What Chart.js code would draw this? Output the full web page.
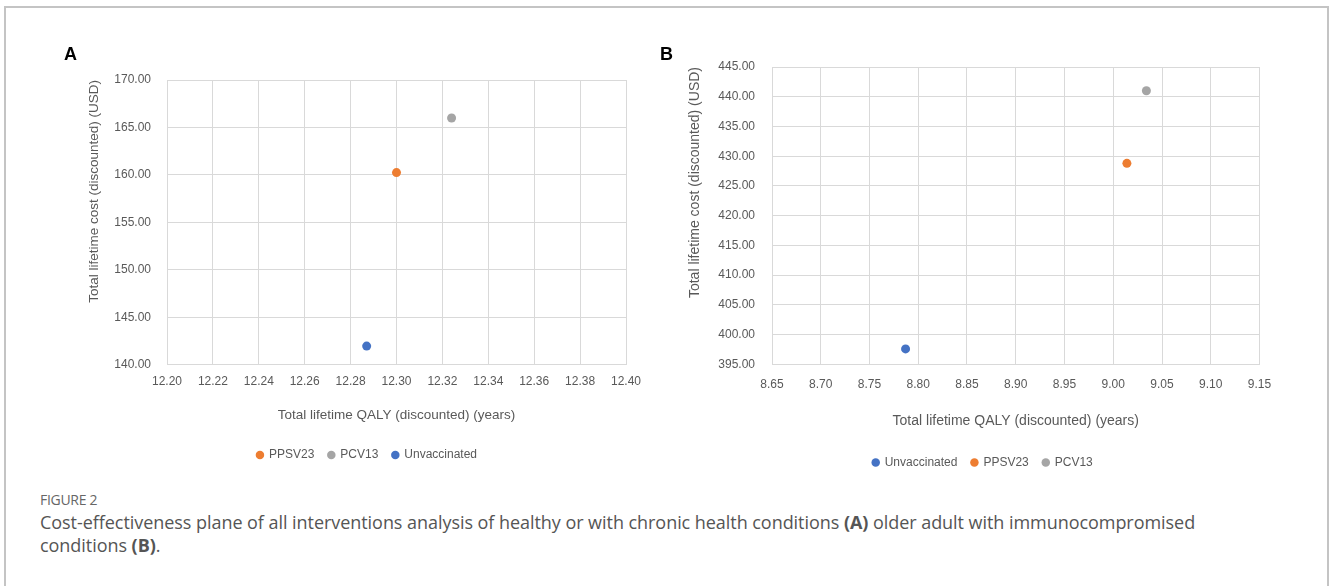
<!DOCTYPE html>
<html>
<head>
<meta charset="utf-8">
<script src="https://cdn.jsdelivr.net/npm/chart.js@4.4.1/dist/chart.umd.min.js"></script>
<style>
  body { margin: 0; width: 1330px; height: 586px; background: #fff; position: relative; overflow: hidden; }
  #frame { position: absolute; left: 4px; top: 6px; width: 1321px; height: 620px; border: 2px solid #c4c4c4; }
  canvas { position: absolute; top: 0; }
  #chartA { left: 0; }
  #chartB { left: 640px; }
  .tag { position: absolute; top: 45px; font: bold 18px "Liberation Sans", Arial, sans-serif; line-height: 18px; color: #000; }
  #fig { position: absolute; left: 40px; top: 491px; font: 14px "Open Sans", sans-serif; line-height: 18px; color: #666; letter-spacing: -0.3px; }
  #cap { position: absolute; left: 40px; top: 511px; width: 1270px; font: 18px "Open Sans", sans-serif; line-height: 23px; color: #555; letter-spacing: -0.05px; margin: 0; }
</style>
</head>
<body>
<div id="frame"></div>
<canvas id="chartA" width="665" height="480"></canvas>
<canvas id="chartB" width="690" height="486"></canvas>
<div class="tag" style="left:64px">A</div>
<div class="tag" style="left:660px">B</div>
<div id="fig">FIGURE 2</div>
<p id="cap">Cost-effectiveness plane of all interventions analysis of healthy or with chronic health conditions <b>(A)</b> older adult with immunocompromised<br>conditions <b>(B)</b>.</p>

<script>
// panel A
const seriesA = ['PPSV23', 'PCV13', 'Unvaccinated'];
const qalyA = [12.300, 12.324, 12.287];
const costA = [160.24, 166.00, 141.96];
const xTicksA = [12.20, 12.22, 12.24, 12.26, 12.28, 12.30, 12.32, 12.34, 12.36, 12.38, 12.40];
const yTicksA = [140, 145, 150, 155, 160, 165, 170];

// panel B
const seriesB = ['Unvaccinated', 'PPSV23', 'PCV13'];
const qalyB = [8.787, 9.014, 9.034];
const costB = [397.6, 428.8, 441.0];
const xTicksB = [8.65, 8.70, 8.75, 8.80, 8.85, 8.90, 8.95, 9.00, 9.05, 9.10, 9.15];
const yTicksB = [395, 400, 405, 410, 415, 420, 425, 430, 435, 440, 445];

const colors = { PPSV23: '#ed7d31', PCV13: '#a5a5a5', Unvaccinated: '#4472c4' };
const textGray = '#595959';
const gridGray = '#d9d9d9';

Chart.defaults.font.family = '"Liberation Sans", Arial, sans-serif';
Chart.defaults.color = textGray;

// rotated y title, drawn so its end sits at the top of the plot
const yTitle = {
  id: 'yTitle',
  afterDraw(chart, args, opts) {
    const ctx = chart.ctx;
    ctx.save();
    ctx.translate(opts.x, chart.chartArea.top);
    ctx.rotate(-Math.PI / 2);
    ctx.font = opts.size + 'px "Liberation Sans", Arial, sans-serif';
    ctx.fillStyle = textGray;
    ctx.textAlign = 'right';
    ctx.textBaseline = 'middle';
    ctx.fillText(opts.text, 0, 0);
    ctx.restore();
  }
};

function drawPanel(id, names, xs, ys, xTicks, yTicks, p) {
  const datasets = names.map((n, i) => ({
    label: n,
    data: [{ x: xs[i], y: ys[i] }],
    backgroundColor: colors[n],
    borderColor: colors[n],
    pointRadius: 4.5,
    pointHoverRadius: 4.5,
    pointBorderWidth: 0
  }));

  new Chart(document.getElementById(id), {
    type: 'scatter',
    data: { datasets },
    plugins: [yTitle],
    options: {
      responsive: false,
      animation: false,
      devicePixelRatio: 1,
      layout: { padding: p.pad },
      plugins: {
        tooltip: { enabled: false },
        yTitle: { text: 'Total lifetime cost (discounted) (USD)', x: p.titleX, size: p.ySize },
        legend: {
          position: 'bottom',
          labels: {
            usePointStyle: true,
            pointStyle: 'circle',
            boxWidth: 6,
            boxHeight: 6,
            padding: 14,
            color: textGray,
            font: { size: 12 }
          }
        }
      },
      scales: {
        x: {
          type: 'linear',
          min: xTicks[0],
          max: xTicks[xTicks.length - 1],
          afterBuildTicks: s => { s.ticks = xTicks.map(v => ({ value: v })); },
          grid: { color: gridGray, drawTicks: false },
          border: { color: gridGray },
          ticks: { color: textGray, font: { size: 12 }, padding: p.xPad, maxRotation: 0, autoSkip: false, callback: v => v.toFixed(2) },
          title: {
            display: true,
            text: 'Total lifetime QALY (discounted) (years)',
            color: textGray,
            font: { size: p.xSize },
            padding: { top: p.tTop, bottom: p.tBot }
          }
        },
        y: {
          type: 'linear',
          min: yTicks[0],
          max: yTicks[yTicks.length - 1],
          afterBuildTicks: s => { s.ticks = yTicks.map(v => ({ value: v })); },
          afterFit: s => { s.width = p.yWidth; },
          grid: { color: gridGray, drawTicks: false },
          border: { color: gridGray },
          ticks: { color: textGray, font: { size: 12 }, padding: p.yPad, autoSkip: false, callback: v => v.toFixed(2) }
        }
      }
    }
  });
}

drawPanel('chartA', seriesA, qalyA, costA, xTicksA, yTicksA, {
  pad: { left: 108, right: 39, top: 80, bottom: 9 },
  yWidth: 59, yPad: 16, xPad: 10, tTop: 7.7, tBot: 12,
  xSize: 13.5, ySize: 13.5, titleX: 94
});

drawPanel('chartB', seriesB, qalyB, costB, xTicksB, yTicksB, {
  pad: { left: 66, right: 70.5, top: 67, bottom: 7.5 },
  yWidth: 66, yPad: 17, xPad: 12.8, tTop: 8.4, tBot: 12.9,
  xSize: 14, ySize: 14, titleX: 55
});
</script>
</body>
</html>
